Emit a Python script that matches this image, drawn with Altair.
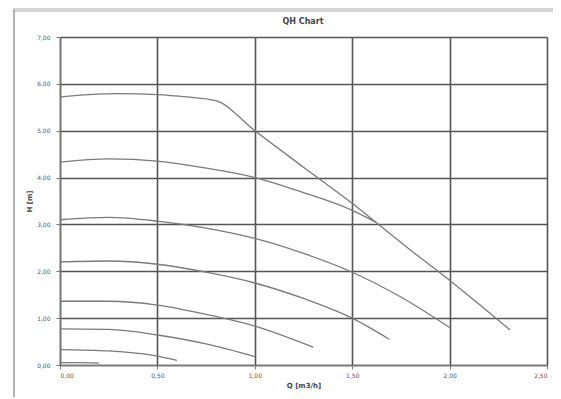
import altair as alt
import pandas as pd

# Q [m3/h] and H [m] values, one list pair per curve
q_max = [0.0, 0.15, 0.3, 0.5, 0.65, 0.8, 1.0, 1.25, 1.5, 1.62, 1.8, 2.0, 2.15, 2.31]
h_max = [5.72, 5.77, 5.79, 5.77, 5.72, 5.64, 5.0, 4.22, 3.45, 3.05, 2.45, 1.81, 1.3, 0.75]

q_s2 = [0.0, 0.25, 0.5, 0.75, 1.0, 1.25, 1.5, 1.62]
h_s2 = [4.33, 4.40, 4.35, 4.20, 4.0, 3.68, 3.3, 3.05]

q_s3 = [0.0, 0.25, 0.5, 0.75, 1.0, 1.25, 1.5, 1.75, 2.0]
h_s3 = [3.10, 3.15, 3.07, 2.92, 2.70, 2.38, 1.98, 1.45, 0.80]

q_s4 = [0.0, 0.25, 0.5, 0.75, 1.0, 1.25, 1.5, 1.69]
h_s4 = [2.20, 2.22, 2.15, 1.98, 1.75, 1.42, 1.0, 0.55]

q_s5 = [0.0, 0.25, 0.5, 0.75, 1.0, 1.3]
h_s5 = [1.36, 1.36, 1.28, 1.08, 0.83, 0.38]

q_s6 = [0.0, 0.25, 0.5, 0.75, 1.0]
h_s6 = [0.77, 0.76, 0.64, 0.45, 0.18]

q_s7 = [0.0, 0.25, 0.5, 0.6]
h_s7 = [0.33, 0.30, 0.19, 0.10]

q_s8 = [0.0, 0.1, 0.2]
h_s8 = [0.05, 0.05, 0.04]

curves = {
    "max": (q_max, h_max), "s2": (q_s2, h_s2), "s3": (q_s3, h_s3),
    "s4": (q_s4, h_s4), "s5": (q_s5, h_s5), "s6": (q_s6, h_s6),
    "s7": (q_s7, h_s7), "s8": (q_s8, h_s8),
}

x_ticks = [0.0, 0.5, 1.0, 1.5, 2.0, 2.5]
y_ticks = [0, 1, 2, 3, 4, 5, 6, 7]
chart_title = "QH Chart"

rows = []
for name, (qs, hs) in curves.items():
    for i, (q, h) in enumerate(zip(qs, hs)):
        rows.append({"curve": name, "Q": q, "H": h, "order": i})
df = pd.DataFrame(rows)

label_expr = "replace(format(datum.value, '.2f'), '.', ',')"

common_axis = dict(
    grid=True, gridColor="#555555", gridWidth=1.6,
    domain=True, domainColor="#777777", domainWidth=1.5,
    tickColor="#777777", tickSize=4,
    labelFontSize=6, labelColor="#555555", labelFont="DejaVu Sans",
    titleFontSize=7, titleFont="DejaVu Sans", titleColor="#444444",
    titleFontWeight="bold",
)

lines = alt.Chart(df).mark_line(color="#7a7a7a", strokeWidth=1.3, interpolate="monotone").encode(
    x=alt.X("Q:Q", scale=alt.Scale(domain=[0, 2.5], nice=False),
            axis=alt.Axis(values=x_ticks, labelExpr=label_expr, title="Q [m3/h]",
                          labelPadding=3, titlePadding=3, **common_axis)),
    y=alt.Y("H:Q", scale=alt.Scale(domain=[0, 7], nice=False),
            axis=alt.Axis(values=y_ticks, labelExpr=label_expr, title="H [m]",
                          labelPadding=6, titlePadding=4, **common_axis)),
    detail="curve:N",
    order="order:Q",
)

one = pd.DataFrame({"t": [chart_title]})

title_mark = alt.Chart(one).mark_text(
    fontSize=8, font="DejaVu Sans", fontWeight="bold", color="#444444",
    align="center", baseline="middle", clip=False
).encode(text="t:N", x=alt.value(243), y=alt.value(-15))

# decorative frame of the screenshot (top band and left edge)
top_band = alt.Chart(one).mark_rule(
    color="#d4d4d4", strokeWidth=4, clip=False
).encode(x=alt.value(-47), x2=alt.value(510), y=alt.value(-27))
left_edge = alt.Chart(one).mark_rule(
    color="#9a9a9a", strokeWidth=1.5, clip=False
).encode(x=alt.value(-46), y=alt.value(-27), y2=alt.value(360))

chart = alt.layer(lines, title_mark, top_band, left_edge).properties(
    width=487, height=328,
    autosize=alt.AutoSizeParams(type="none"),
    padding={"left": 52, "top": 29, "right": 6, "bottom": 34},
).configure_view(stroke=None).configure(background="white")

chart.save("out.html", embed_options={"renderer": "svg", "actions": False})
